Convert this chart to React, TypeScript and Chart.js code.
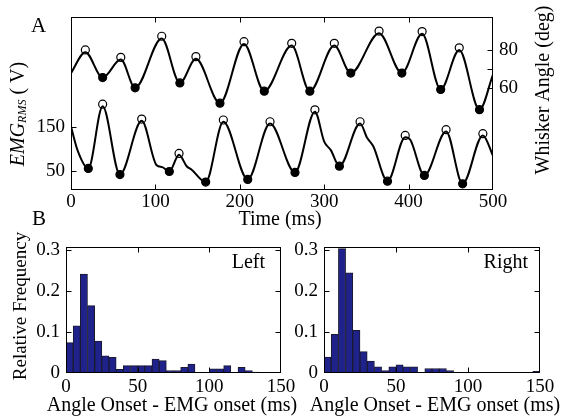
import React, { useEffect, useRef } from 'react';
import { Chart, registerables } from 'chart.js';
Chart.register(...registerables);

const FONT = '"Liberation Serif", "Times New Roman", Times, serif';

// ---------- Panel A data ----------
const TIME_TICKS = [0, 100, 200, 300, 400, 500];
const EMG_TICKS = [50, 150];
const ANGLE_TICKS = [60, 70, 80];
const ANGLE_TICK_LABELS = ['60', '', '80'];

// whisker angle trace (ms, deg)
const ANGLE_T = [0, 17, 37.5, 59, 76, 107.5, 129, 148, 176.5, 205, 229, 261.5, 283, 312, 331.5, 365, 392, 416, 438, 460, 484, 500];
const ANGLE_V = [67.8, 79, 65.4, 75, 59.9, 86.3, 62.5, 75.4, 51.7, 83.4, 58.1, 82.5, 58.1, 82.5, 67.8, 89.1, 67.8, 88.8, 59, 80.1, 48.2, 67];
const ANGLE_PEAK_T = [17, 59, 107.5, 148, 205, 261.5, 312, 365, 416, 460];
const ANGLE_PEAK_V = [80.2, 76.2, 87.5, 76.6, 84.6, 83.7, 83.7, 90.3, 90, 81.3];
const ANGLE_TROUGH_T = [37.5, 76, 129, 176.5, 229, 283, 331.5, 392, 438, 484];
const ANGLE_TROUGH_V = [65.4, 59.9, 62.5, 51.7, 58.1, 58.1, 67.8, 67.8, 59, 48.2];

// EMG RMS trace (ms, uV)
const EMG_T = [0, 8, 20.5, 37.5, 58, 83.8, 101.5, 108, 116.5, 128, 137, 143, 159.6, 180.5, 209.4, 235.8, 265.4, 289, 300, 308, 318, 342.5, 351, 358, 375, 396, 402, 418.7, 444.4, 464, 488, 500];
const EMG_V = [150, 95, 55, 196, 41, 163, 62, 58, 48, 86, 60, 52, 24, 161, 30, 157, 46, 184, 116, 96, 60, 157, 124, 106, 26, 126, 120, 39, 139, 20, 130, 84];
const EMG_PEAK_T = [37.5, 83.8, 128, 180.5, 235.8, 289, 342.5, 396, 444.4, 488];
const EMG_PEAK_V = [201, 167, 89, 165, 161, 188, 161, 130, 143, 134];
const EMG_TROUGH_T = [20.5, 58, 116.5, 159.6, 209.4, 265.4, 318, 375, 418.7, 464];
const EMG_TROUGH_V = [55, 41, 48, 24, 30, 46, 60, 26, 39, 20];

// ---------- Panel B data ----------
const BIN_CENTERS = [2.5, 7.5, 12.5, 17.5, 22.5, 27.5, 32.5, 37.5, 42.5, 47.5, 52.5, 57.5, 62.5, 67.5, 72.5, 77.5, 82.5, 87.5, 92.5, 97.5, 102.5, 107.5, 112.5, 117.5, 122.5, 127.5, 132.5, 137.5, 142.5, 147.5];
const LEFT_FREQ = [0.074, 0.115, 0.241, 0.164, 0.078, 0.042, 0.038, 0.009, 0.018, 0.018, 0.018, 0.018, 0.034, 0.030, 0.006, 0.006, 0.014, 0.022, 0, 0, 0.010, 0.010, 0.018, 0, 0.014, 0.006, 0.002, 0, 0, 0];
const RIGHT_FREQ = [0.039, 0.094, 0.303, 0.244, 0.104, 0.052, 0.029, 0.015, 0.006, 0.015, 0.020, 0.015, 0.015, 0, 0.011, 0.011, 0.011, 0.006, 0, 0, 0, 0, 0, 0, 0.001, 0, 0, 0, 0, 0.004];
const ONSET_TICKS = [0, 50, 100, 150];
const FREQ_TICKS = [0, 0.05, 0.1, 0.15, 0.2, 0.25, 0.3];
const FREQ_TICK_LABELS = ['0', '', '0.1', '', '0.2', '', '0.3'];

const W = 561;
const H = 417;

const zip = (xs: number[], ys: number[]) => xs.map((x, i) => ({ x, y: ys[i] }));

function text(ctx: CanvasRenderingContext2D, s: string, x: number, y: number, size: number,
  align: CanvasTextAlign = 'center', baseline: CanvasTextBaseline = 'alphabetic', rot = 0) {
  ctx.save();
  ctx.translate(x, y);
  if (rot) ctx.rotate(rot);
  ctx.font = `${size}px ${FONT}`;
  ctx.fillStyle = '#000';
  ctx.textAlign = align;
  ctx.textBaseline = baseline;
  ctx.fillText(s, 0, 0);
  ctx.restore();
}

function framePlugin(yBoth: boolean, drawTexts: (ctx: CanvasRenderingContext2D) => void) {
  return {
    id: 'frame',
    afterDatasetsDraw(chart: any) {
      const { ctx, chartArea: a } = chart;
      const L = 5;
      ctx.save();
      ctx.strokeStyle = '#000';
      ctx.lineWidth = 1;
      const l = Math.round(a.left) + 0.5, r = Math.round(a.right) - 0.5;
      const t = Math.round(a.top) + 0.5, b = Math.round(a.bottom) - 0.5;
      ctx.strokeRect(l, t, r - l, b - t);
      ctx.beginPath();
      for (const id of Object.keys(chart.scales)) {
        const s = chart.scales[id];
        for (const tk of s.ticks) {
          const p = Math.round(s.getPixelForValue(tk.value)) + 0.5;
          if (s.isHorizontal()) {
            if (p <= l + 1 || p >= r - 1) continue;
            ctx.moveTo(p, b); ctx.lineTo(p, b - L);
            ctx.moveTo(p, t); ctx.lineTo(p, t + L);
          } else {
            if (p <= t + 1 || p >= b - 1) continue;
            if (yBoth || s.position === 'left') { ctx.moveTo(l, p); ctx.lineTo(l + L, p); }
            if (yBoth || s.position === 'right') { ctx.moveTo(r, p); ctx.lineTo(r - L, p); }
          }
        }
      }
      ctx.stroke();
      drawTexts(ctx);
      ctx.restore();
    },
  };
}

const tickFont = { family: FONT, size: 19 };

function configA(): any {
  const markerCommon = { showLine: false, pointRadius: 4, pointBorderColor: '#000', pointBorderWidth: 1.2, borderColor: '#000' };
  return {
    type: 'line',
    data: {
      datasets: [
        { ...markerCommon, data: zip(ANGLE_PEAK_T, ANGLE_PEAK_V), yAxisID: 'yR', pointBackgroundColor: 'rgba(0,0,0,0)' },
        { ...markerCommon, data: zip(ANGLE_TROUGH_T, ANGLE_TROUGH_V), yAxisID: 'yR', pointBackgroundColor: '#000' },
        { ...markerCommon, data: zip(EMG_PEAK_T, EMG_PEAK_V), yAxisID: 'yL', pointBackgroundColor: 'rgba(0,0,0,0)' },
        { ...markerCommon, data: zip(EMG_TROUGH_T, EMG_TROUGH_V), yAxisID: 'yL', pointBackgroundColor: '#000' },
        { data: zip(ANGLE_T, ANGLE_V), yAxisID: 'yR', borderColor: '#000', borderWidth: 2, pointRadius: 0, cubicInterpolationMode: 'monotone' },
        { data: zip(EMG_T, EMG_V), yAxisID: 'yL', borderColor: '#000', borderWidth: 2, pointRadius: 0, cubicInterpolationMode: 'monotone' },
      ],
    },
    options: {
      responsive: false,
      animation: false,
      devicePixelRatio: 1,
      events: [],
      layout: { padding: { top: 13, bottom: H - 230, left: 0, right: 0 } },
      plugins: { legend: { display: false }, tooltip: { enabled: false } },
      scales: {
        x: {
          type: 'linear', position: 'bottom', min: 0, max: 500,
          grid: { display: false, drawTicks: false }, border: { display: false },
          ticks: { font: tickFont, color: '#000', padding: 1, autoSkip: false, maxRotation: 0 },
          afterBuildTicks: (s: any) => { s.ticks = TIME_TICKS.map((v) => ({ value: v })); },
          afterFit: (s: any) => { s.height = 40; },
        },
        yL: {
          type: 'linear', position: 'left', min: 6, max: 398,
          grid: { display: false, drawTicks: false }, border: { display: false },
          ticks: { font: tickFont, color: '#000', padding: 6 },
          afterBuildTicks: (s: any) => { s.ticks = EMG_TICKS.map((v) => ({ value: v })); },
          afterFit: (s: any) => { s.width = 71; },
        },
        yR: {
          type: 'linear', position: 'right', min: 5.2, max: 97.6,
          grid: { display: false, drawTicks: false }, border: { display: false },
          ticks: { font: tickFont, color: '#000', padding: 6, callback: (_v: any, i: number) => ANGLE_TICK_LABELS[i] },
          afterBuildTicks: (s: any) => { s.ticks = ANGLE_TICKS.map((v) => ({ value: v })); },
          afterFit: (s: any) => { s.width = 68; },
        },
      },
    },
    plugins: [framePlugin(false, (ctx) => {
      text(ctx, 'A', 31, 32, 21, 'left');
      text(ctx, 'Time (ms)', 280, 225, 20);
      text(ctx, 'Whisker Angle (deg)', 544, 90, 20, 'center', 'middle', -Math.PI / 2);
      // EMG_RMS ( V)
      ctx.save();
      ctx.translate(24, 114);
      ctx.rotate(-Math.PI / 2);
      ctx.fillStyle = '#000';
      ctx.textBaseline = 'alphabetic';
      ctx.textAlign = 'left';
      const f1 = `italic 20px ${FONT}`, f2 = `italic 12px ${FONT}`, f3 = `20px ${FONT}`;
      ctx.font = f1; const w1 = ctx.measureText('EMG').width;
      ctx.font = f2; const w2 = ctx.measureText('RMS').width;
      ctx.font = f3; const w3 = ctx.measureText(' ( V)').width;
      let x0 = -(w1 + w2 + w3) / 2;
      ctx.font = f1; ctx.fillText('EMG', x0, 0); x0 += w1;
      ctx.font = f2; ctx.fillText('RMS', x0, 2); x0 += w2;
      ctx.font = f3; ctx.fillText(' ( V)', x0, 0);
      ctx.restore();
    })],
  };
}

function configHist(freq: number[], padLeft: number, yWidth: number, padRight: number,
  drawTexts: (ctx: CanvasRenderingContext2D) => void): any {
  return {
    type: 'bar',
    data: {
      datasets: [{
        data: zip(BIN_CENTERS, freq),
        backgroundColor: 'rgb(32, 34, 140)',
        borderColor: '#1a1a2e',
        borderWidth: 1,
        borderSkipped: 'start',
        barPercentage: 1,
        categoryPercentage: 1,
      }],
    },
    options: {
      responsive: false,
      animation: false,
      devicePixelRatio: 1,
      events: [],
      layout: { padding: { top: 247, bottom: 0, left: padLeft, right: padRight } },
      plugins: { legend: { display: false }, tooltip: { enabled: false } },
      scales: {
        x: {
          type: 'linear', position: 'bottom', min: 0, max: 150, offset: false,
          grid: { display: false, drawTicks: false, offset: false }, border: { display: false },
          ticks: { font: tickFont, color: '#000', padding: 3, autoSkip: false, maxRotation: 0 },
          afterBuildTicks: (s: any) => { s.ticks = ONSET_TICKS.map((v) => ({ value: v })); },
          afterFit: (s: any) => { s.height = 44; },
        },
        y: {
          type: 'linear', position: 'left', min: 0, max: 0.307,
          grid: { display: false, drawTicks: false }, border: { display: false },
          ticks: { font: tickFont, color: '#000', padding: 6, callback: (_v: any, i: number) => FREQ_TICK_LABELS[i] },
          afterBuildTicks: (s: any) => { s.ticks = FREQ_TICKS.map((v) => ({ value: v })); },
          afterFit: (s: any) => { s.width = yWidth; },
        },
      },
    },
    plugins: [framePlugin(true, drawTexts)],
  };
}

function ChartCanvas({ make }: { make: () => any }) {
  const ref = useRef<HTMLCanvasElement | null>(null);
  useEffect(() => {
    if (!ref.current) return;
    const chart = new Chart(ref.current, make());
    return () => chart.destroy();
  }, []);
  return (
    <canvas ref={ref} width={W} height={H}
      style={{ position: 'absolute', left: 0, top: 0, width: W, height: H }} />
  );
}

export default function App() {
  return (
    <div style={{ position: 'fixed', left: 0, top: 0, width: W, height: H, background: '#fff', overflow: 'hidden' }}>
      <ChartCanvas make={configA} />
      <ChartCanvas make={() => configHist(LEFT_FREQ, 0, 66, W - 281, (ctx) => {
        text(ctx, 'B', 32, 225, 21, 'left');
        text(ctx, 'Left', 265, 268, 20, 'right');
        text(ctx, 'Relative Frequency', 21, 306, 19, 'center', 'middle', -Math.PI / 2);
        text(ctx, 'Angle Onset - EMG onset (ms)', 172, 411, 20);
      })} />
      <ChartCanvas make={() => configHist(RIGHT_FREQ, 284, 40, W - 540, (ctx) => {
        text(ctx, 'Right', 528, 268, 20, 'right');
        text(ctx, 'Angle Onset - EMG onset (ms)', 435, 411, 20);
      })} />
    </div>
  );
}
